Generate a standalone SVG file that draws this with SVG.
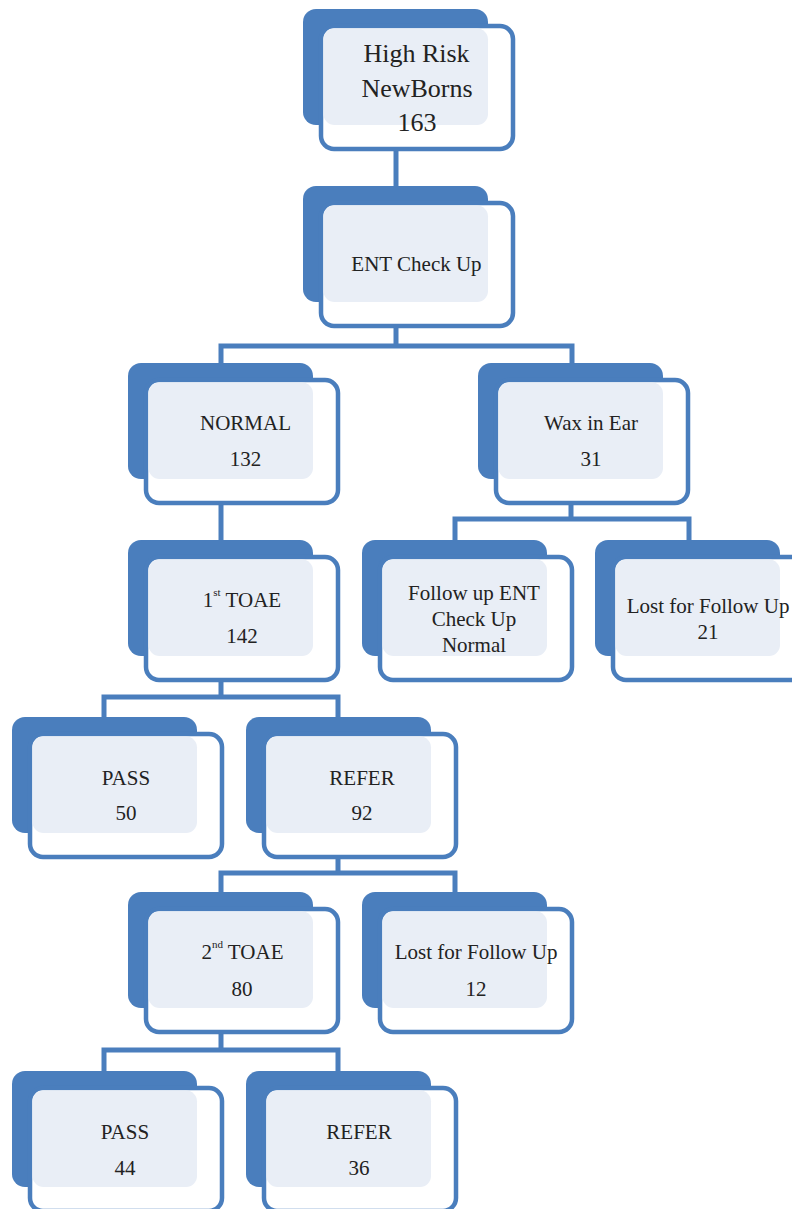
<svg xmlns="http://www.w3.org/2000/svg" width="792" height="1209" viewBox="0 0 792 1209">
<defs>
<style>
.back{fill:#4A7EBD}
.front{fill:#FFFFFF;stroke:#4A7EBD;stroke-width:4.5}
.light{fill:#E9EEF6}
.conn{fill:none;stroke:#4A7EBD;stroke-width:5}
.t{fill:#222222;text-anchor:middle;font-size:21px}
.big{font-size:26px}
.sup{font-size:11px}
</style>
</defs>
<rect width="792" height="1209" fill="#FFFFFF"/>
<g id="connectors">
<path class="conn" d="M396,149 V186"/>
<path class="conn" d="M396,326 V348 M221,363 V346 H572 V363"/>
<path class="conn" d="M221,503 V540"/>
<path class="conn" d="M571,503 V519 M455,540 V519 H689 V540"/>
<path class="conn" d="M221,680 V697 M104,717 V697 H338 V717"/>
<path class="conn" d="M338,857 V873 M221,892 V873 H455 V892"/>
<path class="conn" d="M221,1032 V1050 M104,1071 V1050 H338 V1071"/>
</g>
<g font-family="Liberation Serif, DejaVu Serif, serif">
<g id="n-highrisk">
<rect class="back" x="303" y="9" width="185" height="116" rx="13"/>
<rect class="front" x="321" y="26" width="192" height="123" rx="13"/>
<rect class="light" x="323.5" y="28.5" width="164.5" height="96.5" rx="11"/>
<text class="t big" x="416.5" y="62">High Risk</text>
<text class="t big" x="417" y="97">NewBorns</text>
<text class="t big" x="417" y="131">163</text>
</g>
<g id="n-ent">
<rect class="back" x="303" y="186" width="185" height="116" rx="13"/>
<rect class="front" x="321" y="203" width="192" height="123" rx="13"/>
<rect class="light" x="323.5" y="205.5" width="164.5" height="96.5" rx="11"/>
<text class="t" x="416.5" y="271">ENT Check Up</text>
</g>
<g id="n-normal">
<rect class="back" x="128" y="363" width="185" height="116" rx="13"/>
<rect class="front" x="146" y="380" width="192" height="123" rx="13"/>
<rect class="light" x="148.5" y="382.5" width="164.5" height="96.5" rx="11"/>
<text class="t" x="245.5" y="430">NORMAL</text>
<text class="t" x="245.5" y="466">132</text>
</g>
<g id="n-wax">
<rect class="back" x="478" y="363" width="185" height="116" rx="13"/>
<rect class="front" x="496" y="380" width="192" height="123" rx="13"/>
<rect class="light" x="498.5" y="382.5" width="164.5" height="96.5" rx="11"/>
<text class="t" x="591" y="430">Wax in Ear</text>
<text class="t" x="591" y="466">31</text>
</g>
<g id="n-toae1">
<rect class="back" x="128" y="540" width="185" height="116" rx="13"/>
<rect class="front" x="146" y="557" width="192" height="123" rx="13"/>
<rect class="light" x="148.5" y="559.5" width="164.5" height="96.5" rx="11"/>
<text class="t" x="242" y="607">1<tspan class="sup" dy="-11">st</tspan><tspan dy="11"> TOAE</tspan></text>
<text class="t" x="242" y="643">142</text>
</g>
<g id="n-followup">
<rect class="back" x="362" y="540" width="185" height="116" rx="13"/>
<rect class="front" x="380" y="557" width="192" height="123" rx="13"/>
<rect class="light" x="382.5" y="559.5" width="164.5" height="96.5" rx="11"/>
<text class="t" x="474" y="600">Follow up ENT</text>
<text class="t" x="474" y="626">Check Up</text>
<text class="t" x="474" y="652">Normal</text>
</g>
<g id="n-lost21">
<rect class="back" x="595" y="540" width="185" height="116" rx="13"/>
<rect class="front" x="613" y="557" width="192" height="123" rx="13"/>
<rect class="light" x="615.5" y="559.5" width="164.5" height="96.5" rx="11"/>
<text class="t" x="708" y="613">Lost for Follow Up</text>
<text class="t" x="708" y="639">21</text>
</g>
<g id="n-pass50">
<rect class="back" x="12" y="717" width="185" height="116" rx="13"/>
<rect class="front" x="30" y="734" width="192" height="123" rx="13"/>
<rect class="light" x="32.5" y="736.5" width="164.5" height="96.5" rx="11"/>
<text class="t" x="126" y="785">PASS</text>
<text class="t" x="126" y="820">50</text>
</g>
<g id="n-refer92">
<rect class="back" x="246" y="717" width="185" height="116" rx="13"/>
<rect class="front" x="264" y="734" width="192" height="123" rx="13"/>
<rect class="light" x="266.5" y="736.5" width="164.5" height="96.5" rx="11"/>
<text class="t" x="362" y="785">REFER</text>
<text class="t" x="362" y="820">92</text>
</g>
<g id="n-toae2">
<rect class="back" x="128" y="892" width="185" height="116" rx="13"/>
<rect class="front" x="146" y="909" width="192" height="123" rx="13"/>
<rect class="light" x="148.5" y="911.5" width="164.5" height="96.5" rx="11"/>
<text class="t" x="242.5" y="959">2<tspan class="sup" dy="-11">nd</tspan><tspan dy="11"> TOAE</tspan></text>
<text class="t" x="242" y="996">80</text>
</g>
<g id="n-lost12">
<rect class="back" x="362" y="892" width="185" height="116" rx="13"/>
<rect class="front" x="380" y="909" width="192" height="123" rx="13"/>
<rect class="light" x="382.5" y="911.5" width="164.5" height="96.5" rx="11"/>
<text class="t" x="476" y="959">Lost for Follow Up</text>
<text class="t" x="476" y="996">12</text>
</g>
<g id="n-pass44">
<rect class="back" x="12" y="1071" width="185" height="116" rx="13"/>
<rect class="front" x="30" y="1088" width="192" height="123" rx="13"/>
<rect class="light" x="32.5" y="1090.5" width="164.5" height="96.5" rx="11"/>
<text class="t" x="125" y="1139">PASS</text>
<text class="t" x="125" y="1175">44</text>
</g>
<g id="n-refer36">
<rect class="back" x="246" y="1071" width="185" height="116" rx="13"/>
<rect class="front" x="264" y="1088" width="192" height="123" rx="13"/>
<rect class="light" x="266.5" y="1090.5" width="164.5" height="96.5" rx="11"/>
<text class="t" x="359" y="1139">REFER</text>
<text class="t" x="359" y="1175">36</text>
</g>
</g>
</svg>
